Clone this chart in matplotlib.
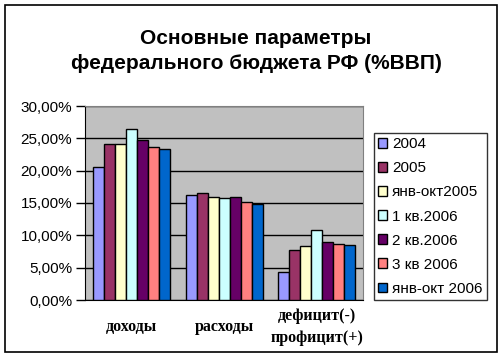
import matplotlib
matplotlib.use("Agg")
import matplotlib.pyplot as plt
import numpy as np
from matplotlib.patches import Rectangle

plt.rcParams['font.family'] = ['Liberation Sans', 'DejaVu Sans']

# данные
categories = ['доходы', 'расходы', 'дефицит(-)\nпрофицит(+)']
series = ['2004', '2005', 'янв-окт2005', '1 кв.2006', '2 кв.2006', '3 кв 2006', 'янв-окт 2006']
values = [
    [20.5, 16.2, 4.4],
    [24.1, 16.6, 7.7],
    [24.2, 15.9, 8.3],
    [26.5, 15.7, 10.9],
    [24.8, 15.9, 8.9],
    [23.6, 15.1, 8.6],
    [23.3, 14.8, 8.45],
]
colors = ['#9999FF', '#993366', '#FFFFCC', '#CCFFFF', '#660066', '#FF8080', '#0066CC']
yticks = [0, 5, 10, 15, 20, 25, 30]
ytick_labels = ['0,00%', '5,00%', '10,00%', '15,00%', '20,00%', '25,00%', '30,00%']

fig = plt.figure(figsize=(5.04, 3.58), dpi=100)
ax = fig.add_axes([85.3/504, 1-300/358, (363-85.3)/504, (300-106)/358])
ax.set_facecolor('#C0C0C0')

x = np.arange(len(categories))
w = 11/92.6
for i, (name, vals) in enumerate(zip(series, values)):
    ax.bar(x + (i - 3)*w, vals, w, color=colors[i], edgecolor='black',
           linewidth=1.0, label=name, zorder=3)

ax.set_xlim(-0.5, 2.5)
ax.set_ylim(0, 30)
ax.set_yticks(yticks)
ax.set_yticklabels(ytick_labels, fontsize=11)
ax.yaxis.grid(True, color='black', linewidth=1.0, zorder=1)
ax.set_axisbelow(True)
ax.tick_params(axis='y', length=6.5, width=1, pad=3)
ax.set_xticks(x)
ax.set_xticklabels(categories, fontsize=11.5, fontweight='bold',
                   family=['Liberation Serif', 'DejaVu Serif'], linespacing=1.55)
ax.tick_params(axis='x', length=0, pad=19.5)
for lbl in ax.get_xticklabels():
    lbl.set_verticalalignment('center')

for s in ['top', 'right']:
    ax.spines[s].set_color('#808080')
for s in ['left', 'bottom']:
    ax.spines[s].set_color('black')

fig.text(256/504, 1-51/358, 'Основные параметры\nфедерального бюджета РФ (%ВВП)',
         ha='center', va='center', fontsize=15, fontweight='bold', linespacing=1.45)

leg = ax.legend(loc='upper left', bbox_to_anchor=(374/504, 1-133/358),
                bbox_transform=fig.transFigure, fontsize=11, frameon=True,
                fancybox=False, edgecolor='black', handlelength=0.6,
                handleheight=0.6, handletextpad=0.3, labelspacing=0.66,
                borderpad=0.28, borderaxespad=0)
leg.get_frame().set_linewidth(1.0)

fig.patches.append(Rectangle((5/504, 1-352/358), 492/504, 347/358,
                             transform=fig.transFigure, fill=False,
                             edgecolor='black', linewidth=1.2))

fig.savefig('out.png', dpi=100)
